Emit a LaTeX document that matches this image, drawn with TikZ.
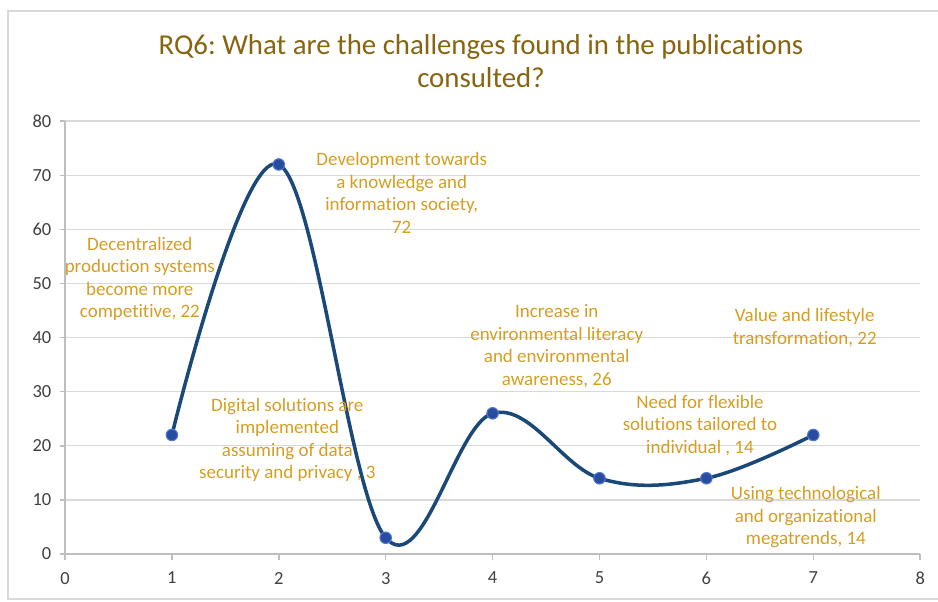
\documentclass[tikz,border=0pt]{standalone}
\usepackage{fontspec}
\setmainfont[Ligatures=NoCommon]{Carlito}
\frenchspacing
\usetikzlibrary{positioning,calc}
\definecolor{titlegold}{RGB}{135,100,15}
\definecolor{labelgold}{RGB}{212,158,34}
\definecolor{curveblue}{RGB}{26,72,120}
\definecolor{markblue}{RGB}{40,76,160}
\definecolor{markedge}{RGB}{80,120,210}
\definecolor{gridgray}{RGB}{217,217,217}
\definecolor{axisgray}{RGB}{190,190,190}
\definecolor{ticktext}{RGB}{64,64,64}
\tikzset{
    gridline/.style={draw=gridgray, line width=0.8pt},
    axisline/.style={draw=axisgray, line width=0.9pt},
    ticklabel/.style={text=ticktext, font=\fontsize{10.5}{12}\selectfont},
}

\begin{document}
\begin{tikzpicture}[challenge/.style={align=center, text=labelgold, font=\fontsize{10.8}{12.8}\selectfont, inner sep=0pt},
                    point/.style={circle, fill=markblue, draw=markedge, line width=0.6pt, minimum size=0.23cm, inner sep=0pt}]
  \useasboundingbox (0,0) rectangle (18.76,12.04);
  % MARCO
  \draw[gridgray, line width=0.6pt] (18.76,11.82) -| (0.16,0.06) -- (18.76,0.06);
  \node [text=titlegold, align=center, font=\fontsize{16.4}{18.7}\selectfont] (charttitle) at (9.62,10.82)
    {RQ6: What are the challenges found in the publications\\consulted?};

  \begin{scope}[shift={(1.30,0.96)}, x=2.138cm, y=0.1082cm]
    % REJILLA
    \foreach \v in {10,20,...,80}
      \draw[gridline] (0,\v) -- (8,\v);
    \draw[axisline] (0,0) -- (0,80);
    \draw[axisline] (0,0) -- (8,0);
    \foreach \v in {0,10,...,80} {
      \draw[axisline] (-0.05,\v) -- (0,\v);
      \node [ticklabel, anchor=east] (ylab\v) at (-0.07,\v) {\v};
    }
    \foreach \u in {0,...,8} {
      \draw[axisline] (\u,0) -- (\u,-1.1);
      \node [ticklabel, anchor=north] (xlab\u) at (\u,-2.2) {\u};
    }

    % DATOS
    \coordinate (p1) at (1,22);
    \coordinate (p2) at (2,72);
    \coordinate (p3) at (3,3);
    \coordinate (p4) at (4,26);
    \coordinate (p5) at (5,14);
    \coordinate (p6) at (6,14);
    \coordinate (p7) at (7,22);
    \draw[curveblue, line width=2pt, line cap=round] plot[smooth, tension=0.62] coordinates {(p1) (p2) (p3) (p4) (p5) (p6) (p7)};
    \foreach \i in {1,...,7}
      \node [point] (m\i) at (p\i) {};

    % ETIQUETAS
    \node [challenge] (decentral) at (0.70,50.8)
      {Decentralized\\production systems\\become more\\competitive, 22};
    \node [challenge] (development) at (3.15,66.7)
      {Development towards\\a knowledge and\\information society,\\72};
    \node [challenge] (digital) at (2.08,21.1)
      {Digital solutions are\\implemented\\assuming of data\\security and privacy , 3};
    \node [challenge] (increase) at (4.60,38.4)
      {Increase in\\environmental literacy\\and environmental\\awareness, 26};
    \node [challenge] (flexible) at (5.94,23.8)
      {Need for flexible\\solutions tailored to\\individual , 14};
    \node [challenge] (lifestyle) at (6.92,41.8)
      {Value and lifestyle\\transformation, 22};
    \node [challenge] (megatrends) at (6.93,6.8)
      {Using technological\\and organizational\\megatrends, 14};
  \end{scope}
\end{tikzpicture}
\end{document}
